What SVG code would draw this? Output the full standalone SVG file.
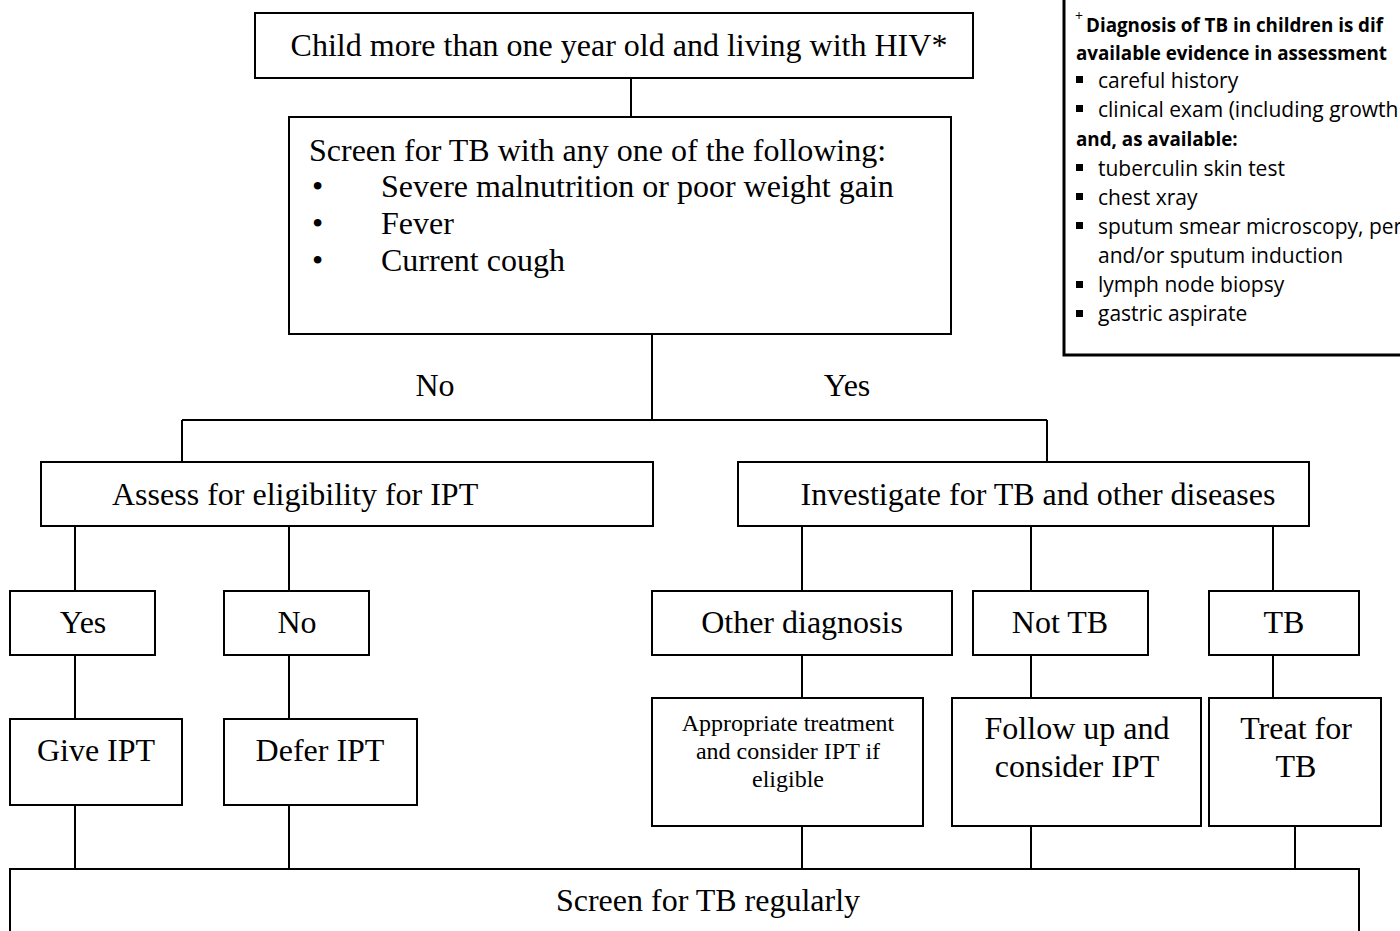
<svg xmlns="http://www.w3.org/2000/svg" width="1400" height="931" viewBox="0 0 1400 931">
<style>
.box{fill:#fff;stroke:#000;stroke-width:2}
.ln{stroke:#000;stroke-width:2;fill:none}
.t{font-family:"Liberation Serif","Times New Roman",serif;font-size:32px;fill:#000}
.s{font-family:"Liberation Serif","Times New Roman",serif;font-size:24px;fill:#000}
.c{text-anchor:middle}
.n{font-family:"Open Sans",Lato,sans-serif;font-size:21px;fill:#000}
.b{font-weight:bold;font-size:18.8px}
.sup{font-size:14px}
</style>
<rect width="1400" height="931" fill="#fff"/>
<g id="connectors">
<path class="ln" d="M631 78V117"/>
<path class="ln" d="M652 334V420M182 420H1047M182 420V462M1047 420V462"/>
<path class="ln" d="M75 526V591M289 526V591"/>
<path class="ln" d="M75 655V719M289 655V719"/>
<path class="ln" d="M75 805V869M289 805V869"/>
<path class="ln" d="M802 526V591M1031 526V591M1273 526V591"/>
<path class="ln" d="M802 655V698M1031 655V698M1273 655V698"/>
<path class="ln" d="M802 826V869M1031 826V869M1295 826V869"/>
</g>
<g id="lbl-no"><text class="t c" x="435" y="396">No</text></g>
<g id="lbl-yes"><text class="t c" x="847" y="396">Yes</text></g>
<g id="n-child"><rect class="box" x="255" y="13" width="718" height="65"/><text class="t c" x="619" y="56">Child more than one year old and living with HIV*</text></g>
<g id="n-screen"><rect class="box" x="289" y="117" width="662" height="217"/>
<text class="t" x="309" y="161">Screen for TB with any one of the following:</text>
<text class="t" x="312" y="197">•</text><text class="t" x="381" y="197">Severe malnutrition or poor weight gain</text>
<text class="t" x="312" y="234">•</text><text class="t" x="381" y="234">Fever</text>
<text class="t" x="312" y="271">•</text><text class="t" x="381" y="271">Current cough</text></g>
<g id="n-assess"><rect class="box" x="41" y="462" width="612" height="64"/><text class="t" x="112" y="505">Assess for eligibility for IPT</text></g>
<g id="n-invest"><rect class="box" x="738" y="462" width="571" height="64"/><text class="t c" x="1038" y="505">Investigate for TB and other diseases</text></g>
<g id="n-yes"><rect class="box" x="10" y="591" width="145" height="64"/><text class="t c" x="83" y="633">Yes</text></g>
<g id="n-no"><rect class="box" x="224" y="591" width="145" height="64"/><text class="t c" x="297" y="633">No</text></g>
<g id="n-other"><rect class="box" x="652" y="591" width="300" height="64"/><text class="t c" x="802" y="633">Other diagnosis</text></g>
<g id="n-nottb"><rect class="box" x="973" y="591" width="175" height="64"/><text class="t c" x="1060" y="633">Not TB</text></g>
<g id="n-tb"><rect class="box" x="1209" y="591" width="150" height="64"/><text class="t c" x="1284" y="633">TB</text></g>
<g id="n-give"><rect class="box" x="10" y="719" width="172" height="86"/><text class="t c" x="96" y="761">Give IPT</text></g>
<g id="n-defer"><rect class="box" x="224" y="719" width="193" height="86"/><text class="t c" x="320" y="761">Defer IPT</text></g>
<g id="n-approp"><rect class="box" x="652" y="698" width="271" height="128"/>
<text class="s c" x="788" y="731">Appropriate treatment</text><text class="s c" x="788" y="759">and consider IPT if</text><text class="s c" x="788" y="787">eligible</text></g>
<g id="n-follow"><rect class="box" x="952" y="698" width="249" height="128"/>
<text class="t c" x="1077" y="739">Follow up and</text><text class="t c" x="1077" y="777">consider IPT</text></g>
<g id="n-treat"><rect class="box" x="1209" y="698" width="172" height="128"/>
<text class="t c" x="1296" y="739">Treat for</text><text class="t c" x="1296" y="777">TB</text></g>
<g id="n-regular"><rect class="box" x="10" y="869" width="1349" height="80"/><text class="t c" x="708" y="911">Screen for TB regularly</text></g>
<g id="n-note">
<rect x="1064" y="-10" width="360" height="365" fill="#fff" stroke="#000" stroke-width="3"/>
<text class="n sup" x="1075" y="21">+</text>
<text class="n b" x="1086" y="32">Diagnosis of TB in children is dif</text>
<text class="n b" x="1076" y="60">available evidence in assessment</text>
<g fill="#000"><rect x="1076" y="76" width="7" height="7"/><rect x="1076" y="105" width="7" height="7"/><rect x="1076" y="164" width="7" height="7"/><rect x="1076" y="193" width="7" height="7"/><rect x="1076" y="222" width="7" height="7"/><rect x="1076" y="281" width="7" height="7"/><rect x="1076" y="310" width="7" height="7"/></g>
<text class="n" x="1098" y="88">careful history</text>
<text class="n" x="1098" y="117">clinical exam (including growth</text>
<text class="n b" x="1076" y="146">and, as available:</text>
<text class="n" x="1098" y="176">tuberculin skin test</text>
<text class="n" x="1098" y="205">chest xray</text>
<text class="n" x="1098" y="234">sputum smear microscopy, per</text>
<text class="n" x="1098" y="263">and/or sputum induction</text>
<text class="n" x="1098" y="292">lymph node biopsy</text>
<text class="n" x="1098" y="321">gastric aspirate</text>
</g>
</svg>
